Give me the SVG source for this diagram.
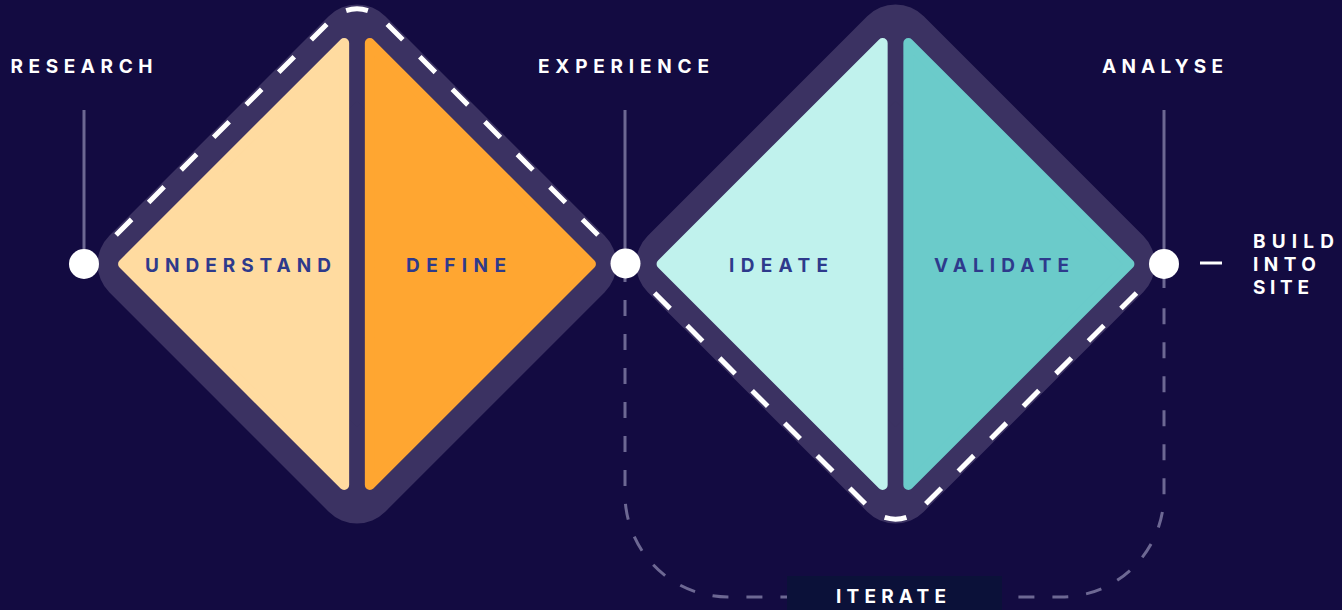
<svg xmlns="http://www.w3.org/2000/svg" width="1342" height="610" viewBox="0 0 1342 610">
  <style>
    .bg { fill: #130B41; }
    .frame { fill: #3B3262; stroke: #3B3262; stroke-width: 80; stroke-linejoin: round; }
    .half { stroke-width: 10; stroke-linejoin: round; }
    .peach { fill: #FFDBA0; stroke: #FFDBA0; }
    .orange { fill: #FFA631; stroke: #FFA631; }
    .mint { fill: #C0F2ED; stroke: #C0F2ED; }
    .teal { fill: #6BCBCA; stroke: #6BCBCA; }
    .trace { fill: none; stroke: #FFFFFF; stroke-width: 5; stroke-dasharray: 22 24; stroke-dashoffset: 38.83; }
    .stem { stroke: #6D6893; stroke-width: 3; fill: none; }
    .loop { stroke: #6D6893; stroke-width: 3; fill: none; stroke-dasharray: 16 18; }
    .dot { fill: #FFFFFF; }
    .lbl { font-family: Inter, "Liberation Sans", sans-serif; font-weight: 700; font-size: 19px; fill: #FFFFFF; }
    .inner { fill: #2E3A8C; }
  </style>

  <rect class="bg" x="0" y="0" width="1342" height="610"/>

  <!-- connectors: stage stems, iterate loop, hand-off tick -->
  <g id="connectors">
    <line class="stem" x1="84" y1="110" x2="84" y2="264"/>
    <line class="stem" x1="625" y1="110" x2="625" y2="282"/>
    <line class="stem" x1="1164" y1="110" x2="1164" y2="288"/>
    <path class="loop" d="M625,300 V494 A103,103 0 0 0 728,597 H1061 A103,103 0 0 0 1164,494 V300"/>
    <line x1="1200" y1="263" x2="1222" y2="263" stroke="#FFFFFF" stroke-width="3"/>
  </g>

  <!-- first diamond: discover / define -->
  <g id="diamond-discover">
    <polygon class="frame" points="357,44.57 576.43,264 357,483.43 137.57,264"/>
    <g id="understand">
      <polygon class="half peach" points="344.15,42.92 344.15,485.08 123.07,264"/>
      <text class="lbl inner" x="145" y="272" textLength="186" lengthAdjust="spacing">UNDERSTAND</text>
    </g>
    <g id="define">
      <polygon class="half orange" points="369.85,42.92 369.85,485.08 590.93,264"/>
      <text class="lbl inner" x="406" y="272" textLength="100" lengthAdjust="spacing">DEFINE</text>
    </g>
    <path class="trace" d="M111,240 L331.54,19.46 A36,36 0 0 1 382.46,19.46 L603,240"/>
  </g>

  <!-- second diamond: develop / deliver -->
  <g id="diamond-develop">
    <polygon class="frame" points="895.5,44.57 1114.93,264 895.5,483.43 676.07,264"/>
    <g id="ideate">
      <polygon class="half mint" points="882.65,42.92 882.65,485.08 661.57,264"/>
      <text class="lbl inner" x="729" y="272" textLength="99" lengthAdjust="spacing">IDEATE</text>
    </g>
    <g id="validate">
      <polygon class="half teal" points="908.35,42.92 908.35,485.08 1129.43,264"/>
      <text class="lbl inner" x="934" y="272" textLength="135" lengthAdjust="spacing">VALIDATE</text>
    </g>
    <path class="trace" d="M649.5,288 L870.04,508.54 A36,36 0 0 0 920.96,508.54 L1141.5,288"/>
  </g>

  <!-- stage markers -->
  <g id="research">
    <circle class="dot" cx="84" cy="264" r="15"/>
    <text class="lbl" x="10.5" y="73" textLength="142" lengthAdjust="spacing">RESEARCH</text>
  </g>
  <g id="experience">
    <circle class="dot" cx="625.5" cy="263.5" r="15"/>
    <text class="lbl" x="538" y="73" textLength="171" lengthAdjust="spacing">EXPERIENCE</text>
  </g>
  <g id="analyse">
    <circle class="dot" cx="1164" cy="264" r="15"/>
    <text class="lbl" x="1102" y="73" textLength="121" lengthAdjust="spacing">ANALYSE</text>
  </g>

  <g id="build">
    <text class="lbl" x="1253" y="248" textLength="81" lengthAdjust="spacing">BUILD</text>
    <text class="lbl" x="1253" y="271" textLength="63" lengthAdjust="spacing">INTO</text>
    <text class="lbl" x="1253" y="294" textLength="56" lengthAdjust="spacing">SITE</text>
  </g>

  <g id="iterate">
    <rect x="787" y="576" width="215" height="40" fill="#0B1139"/>
    <text class="lbl" x="836" y="603" textLength="110" lengthAdjust="spacing">ITERATE</text>
  </g>
</svg>
